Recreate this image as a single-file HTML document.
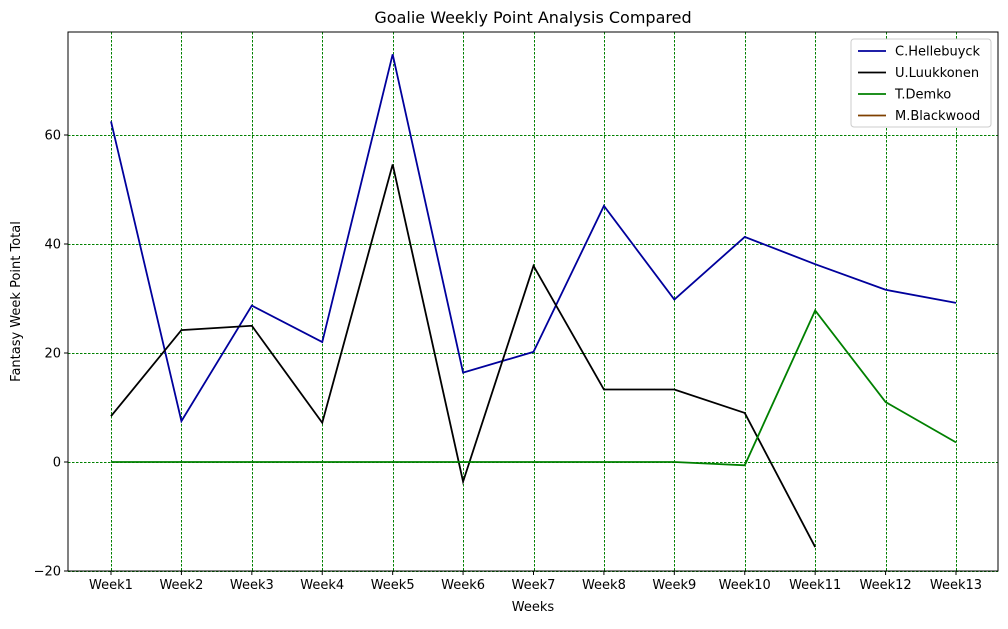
<!DOCTYPE html>
<html><head><meta charset="utf-8"><style>
body{margin:0;background:#fff;font-family:"Liberation Sans","DejaVu Sans",sans-serif;}
svg text{font-family:"DejaVu Sans","Liberation Sans",sans-serif;}
</style></head><body>
<svg id="chart" width="1008" height="624" xmlns="http://www.w3.org/2000/svg">
<rect width="1008" height="624" fill="#fff"/>
<g id="grid"></g><g id="axes"></g><g id="series"></g><g id="legend"></g>
</svg>
<script>
const categories=["Week1","Week2","Week3","Week4","Week5","Week6","Week7","Week8","Week9","Week10","Week11","Week12","Week13"];
const hellebuyck=[62.5,7.5,28.7,22,74.8,16.4,20.2,47,29.8,41.3,36.3,31.6,29.2];
const luukkonen=[8.4,24.2,25,7.2,54.6,-3.6,36,13.3,13.3,9,-15.6];
const demko=[0,0,0,0,0,0,0,0,0,-0.6,27.8,11,3.6];
const blackwood=[];
const yTicks=[-20,0,20,40,60];
const seriesNames=["C.Hellebuyck","U.Luukkonen","T.Demko","M.Blackwood"];
const seriesColors=["#00009c","#000000","#008000","#7f4000"];
const L=68,R=998,T=32,B=571;
const x=i=>111+i*(956-111)/12;
const y=v=>462-v*(462-353)/20;
const NS="http://www.w3.org/2000/svg";
function mk(tag,attrs,parent,txt){const e=document.createElementNS(NS,tag);for(const k in attrs)e.setAttribute(k,attrs[k]);if(txt!==undefined)e.textContent=txt;parent.appendChild(e);return e;}
const grid=document.getElementById('grid'),axes=document.getElementById('axes'),ser=document.getElementById('series'),leg=document.getElementById('legend');
categories.forEach((c,i)=>{
 const g=mk('line',{x1:Math.round(x(i))+0.5,x2:Math.round(x(i))+0.5,y1:T,y2:B,stroke:'#008000','stroke-width':0.7,'stroke-dasharray':'2.5,1.5','shape-rendering':'crispEdges'},grid);
 
 
 const t=mk('line',{x1:x(i),x2:x(i),y1:B,y2:B+4,stroke:'#000'},axes);
 
 
 const l=mk('text',{x:x(i),y:B+18,'text-anchor':'middle','font-size':13},axes,c);
 
 
});
yTicks.forEach(v=>{
 const g=mk('line',{x1:L,x2:R,y1:Math.round(y(v))+0.5,y2:Math.round(y(v))+0.5,stroke:'#008000','stroke-width':0.7,'stroke-dasharray':'2.5,1.5','shape-rendering':'crispEdges'},grid);
 
 
 const t=mk('line',{x1:L-4,x2:L,y1:y(v),y2:y(v),stroke:'#000'},axes);
 
 
 const l=mk('text',{x:L-7,y:y(v)+4.5,'text-anchor':'end','font-size':13},axes,v<0?'\u2212'+(-v):String(v));
 
 
});
const frame=mk('rect',{x:L,y:T,width:R-L,height:B-T,fill:'none',stroke:'#000','stroke-width':1},axes);


const title=mk('text',{x:(L+R)/2,y:23,'text-anchor':'middle','font-size':16},axes,'Goalie Weekly Point Analysis Compared');


const xt=mk('text',{x:(L+R)/2,y:611,'text-anchor':'middle','font-size':13},axes,'Weeks');


const yt=mk('text',{x:0,y:0,'text-anchor':'middle','font-size':13,transform:`translate(20,${(T+B)/2}) rotate(-90)`},axes,'Fantasy Week Point Total');


const allSeries=[hellebuyck,luukkonen,demko,blackwood];
const ids=['line-hellebuyck','line-luukkonen','line-demko','line-blackwood'];
allSeries.forEach((d,si)=>{
 if(!d.length)return;
 const p=mk('polyline',{points:d.map((v,i)=>x(i)+','+y(v)).join(' '),fill:'none',stroke:seriesColors[si],'stroke-width':1.8},ser);
 
 
});
const box=mk('rect',{x:851,y:39,width:140,height:88,fill:'#fff',stroke:'#ccc',rx:3},leg);


seriesNames.forEach((n,i)=>{
 const yy=51+i*21.5;
 const ln=mk('line',{x1:858,x2:886,y1:yy,y2:yy,stroke:seriesColors[i],'stroke-width':1.8},leg);
 
 
 const tx=mk('text',{x:895,y:yy+4.5,'font-size':13},leg,n);
 
 
});
</script>
</body></html>
